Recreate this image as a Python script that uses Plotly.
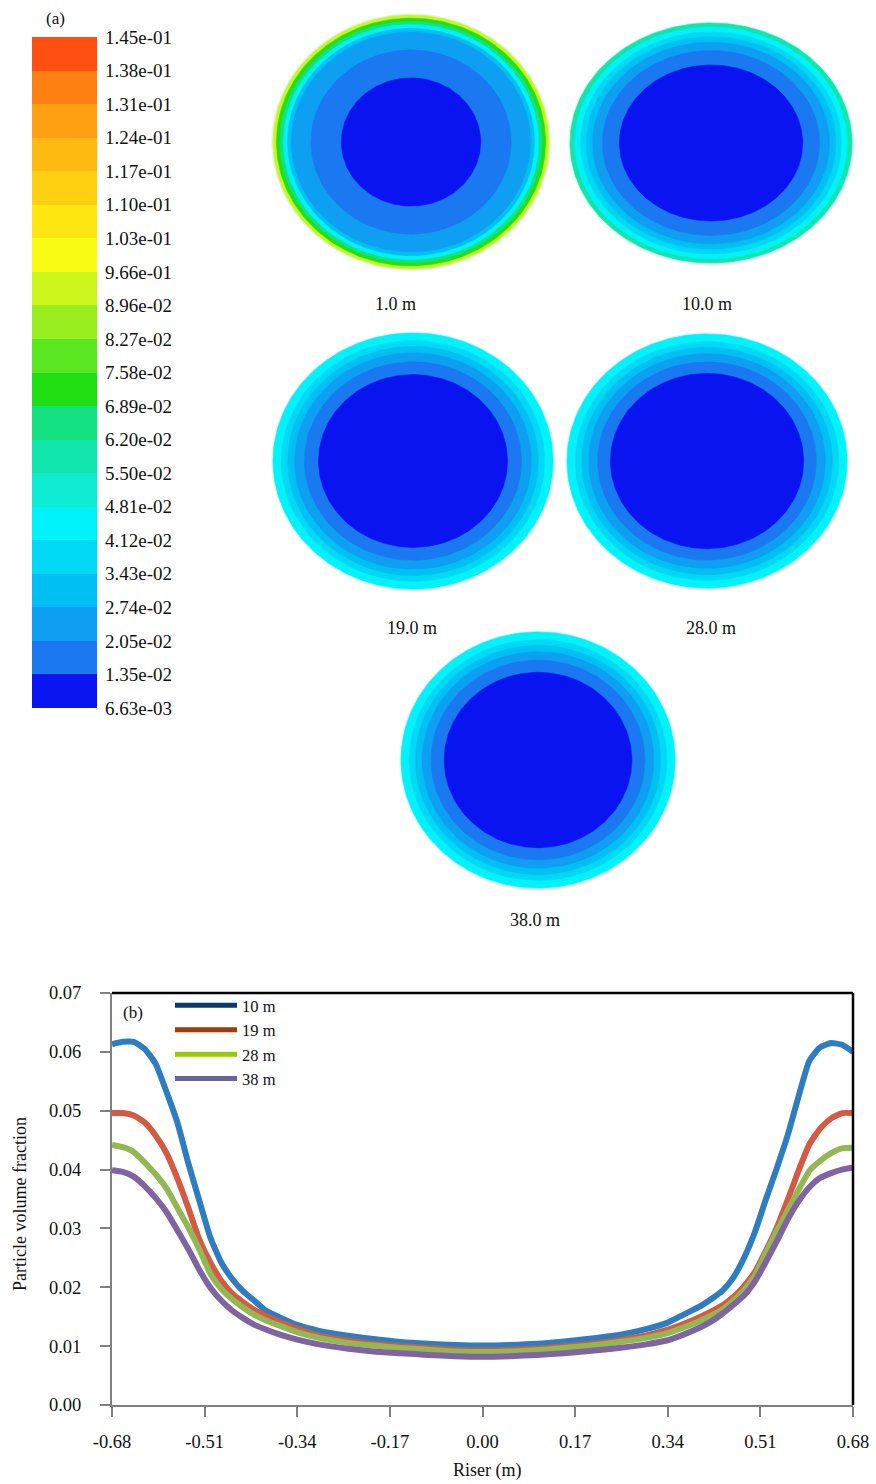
import numpy as np
import plotly.graph_objects as go

# ---------------- data ----------------
# colour-bar tick labels (top -> bottom), as printed
cbar_labels = ["1.45e-01", "1.38e-01", "1.31e-01", "1.24e-01", "1.17e-01", "1.10e-01",
               "1.03e-01", "9.66e-01", "8.96e-02", "8.27e-02", "7.58e-02", "6.89e-02",
               "6.20e-02", "5.50e-02", "4.81e-02", "4.12e-02", "3.43e-02", "2.74e-02",
               "2.05e-02", "1.35e-02", "6.63e-03"]
# band colours (bottom -> top)
band_colors = ["#0a14f0", "#1a78f0", "#0e9ef2", "#00bff2", "#00d9f5", "#00f2fb",
               "#10ecd2", "#10e6ac", "#14e282", "#20e014", "#5ae620", "#98ee1e",
               "#ccf61c", "#fafc14", "#ffe812", "#ffd012", "#ffba12", "#ffa012",
               "#ff8012", "#ff5012"]

# contour maps: heights, ring levels (band index, outer -> inner) and ring radius fractions
heights = ["1.0 m", "10.0 m", "19.0 m", "28.0 m", "38.0 m"]
ring_levels = [
    [12, 9, 8, 5, 3, 2, 1, 0],
    [7, 5, 4, 3, 2, 1, 0],
    [5, 4, 3, 2, 1, 0],
    [5, 4, 3, 2, 1, 0],
    [5, 4, 3, 2, 1, 0],
]
ring_radii = [
    [1.00, 0.975, 0.95, 0.925, 0.895, 0.865, 0.725, 0.505],
    [1.00, 0.965, 0.925, 0.885, 0.84, 0.77, 0.65],
    [1.00, 0.94, 0.895, 0.845, 0.775, 0.675],
    [1.00, 0.94, 0.895, 0.845, 0.78, 0.69],
    [1.00, 0.94, 0.895, 0.845, 0.78, 0.685],
]

# line chart (b)
riser = [-0.68, -0.66, -0.64, -0.62, -0.60, -0.58, -0.56, -0.54, -0.52, -0.50, -0.48, -0.46,
         -0.44, -0.42, -0.40, -0.37, -0.34, -0.30, -0.25, -0.20, -0.15, -0.10, -0.05, 0.00,
         0.05, 0.10, 0.15, 0.20, 0.25, 0.30, 0.34, 0.37, 0.40, 0.42, 0.44, 0.46, 0.48, 0.50,
         0.52, 0.54, 0.56, 0.58, 0.60, 0.62, 0.64, 0.66, 0.68]
frac_10 = [0.0613, 0.0617, 0.0617, 0.0605, 0.0580, 0.0532, 0.0480, 0.0411, 0.0348, 0.0286,
           0.0243, 0.0215, 0.0194, 0.0178, 0.0162, 0.0148, 0.0136, 0.0126, 0.0118, 0.0112,
           0.0107, 0.0104, 0.0102, 0.0101, 0.0102, 0.0104, 0.0108, 0.0113, 0.0119, 0.0129,
           0.0140, 0.0154, 0.0168, 0.0180, 0.0194, 0.0216, 0.0250, 0.0294, 0.0349, 0.0402,
           0.0458, 0.0524, 0.0585, 0.0608, 0.0615, 0.0612, 0.0600]
frac_19 = [0.0496, 0.0496, 0.0492, 0.0480, 0.0458, 0.0428, 0.0385, 0.0335, 0.0282, 0.0243,
           0.0212, 0.0190, 0.0175, 0.0162, 0.0153, 0.0140, 0.0130, 0.0118, 0.0110, 0.0104,
           0.0100, 0.0097, 0.0094, 0.0093, 0.0094, 0.0096, 0.0100, 0.0104, 0.0110, 0.0118,
           0.0128, 0.0138, 0.0150, 0.0159, 0.0169, 0.0183, 0.0202, 0.0226, 0.0262, 0.0301,
           0.0348, 0.0398, 0.0443, 0.0470, 0.0487, 0.0496, 0.0496]
frac_28 = [0.0442, 0.0438, 0.0430, 0.0412, 0.0392, 0.0368, 0.0335, 0.0302, 0.0265, 0.0224,
           0.0198, 0.0180, 0.0166, 0.0154, 0.0145, 0.0134, 0.0124, 0.0114, 0.0106, 0.0101,
           0.0097, 0.0094, 0.0091, 0.0090, 0.0091, 0.0093, 0.0097, 0.0101, 0.0107, 0.0114,
           0.0122, 0.0132, 0.0143, 0.0152, 0.0162, 0.0177, 0.0195, 0.0220, 0.0258, 0.0295,
           0.0330, 0.0365, 0.0398, 0.0415, 0.0428, 0.0436, 0.0437]
frac_38 = [0.0399, 0.0396, 0.0388, 0.0372, 0.0352, 0.0328, 0.0297, 0.0265, 0.0230, 0.0200,
           0.0178, 0.0161, 0.0148, 0.0137, 0.0129, 0.0119, 0.0111, 0.0103, 0.0096, 0.0091,
           0.0088, 0.0085, 0.0083, 0.0082, 0.0083, 0.0085, 0.0088, 0.0092, 0.0097, 0.0103,
           0.0110, 0.0120, 0.0132, 0.0142, 0.0155, 0.0170, 0.0186, 0.0210, 0.0243, 0.0278,
           0.0315, 0.0346, 0.0370, 0.0386, 0.0394, 0.0400, 0.0403]
series_names = ["10 m", "19 m", "28 m", "38 m"]
series_values = [frac_10, frac_19, frac_28, frac_38]
x_ticks = [-0.68, -0.51, -0.34, -0.17, 0.00, 0.17, 0.34, 0.51, 0.68]
y_ticks = [0.00, 0.01, 0.02, 0.03, 0.04, 0.05, 0.06, 0.07]

# ---------------- styles / layout ----------------
W, H = 876, 1484
FONT = "Liberation Serif, Times New Roman, serif"
TXT = "#111"
line_colors = ["#2e7dc0", "#d35a43", "#93b753", "#8064a2"]
legend_colors = ["#0d3a6e", "#a33a0c", "#99cc00", "#66669a"]
# circle placement in pixel space: (cx, cy, rx, ry), label position
circle_geom = [(411, 142, 138, 127), (711, 143, 141, 120), (413, 461, 140, 128),
               (707, 461, 140, 127), (538, 760, 137, 128)]
label_pos = [(395, 304), (707, 304), (412, 628), (711, 628), (535, 920)]

fig = go.Figure()

# --- pixel-space axes for the contour maps (x, y)
theta = np.linspace(0, 2 * np.pi, 241)
for (cx, cy, rx, ry), levels, radii in zip(circle_geom, ring_levels, ring_radii):
    # soft edge
    fig.add_trace(go.Scatter(
        x=cx + rx * 1.012 * np.cos(theta), y=cy + ry * 1.012 * np.sin(theta),
        mode="lines", fill="toself", fillcolor="rgba(150,230,240,0.35)",
        line=dict(width=0), hoverinfo="skip", showlegend=False, xaxis="x", yaxis="y"))
    for lev, r in zip(levels, radii):
        fig.add_trace(go.Scatter(
            x=cx + rx * r * np.cos(theta), y=cy + ry * r * np.sin(theta),
            mode="lines", fill="toself", fillcolor=band_colors[lev],
            line=dict(width=0.6, color=band_colors[lev]),
            hoverinfo="skip", showlegend=False, xaxis="x", yaxis="y"))

# --- colour bar (x3, y3)
nb = len(band_colors)
cscale = []
for i, c in enumerate(band_colors):
    cscale.append([i / nb, c])
    cscale.append([(i + 1) / nb, c])
fig.add_trace(go.Heatmap(
    x=[0], y=[i + 0.5 for i in range(nb)], z=[[i] for i in range(nb)],
    zmin=-0.5, zmax=nb - 0.5, colorscale=cscale, showscale=False,
    hoverinfo="skip", xaxis="x3", yaxis="y3"))

# --- line chart (x2, y2)
for name, vals, col in zip(series_names, series_values, line_colors):
    fig.add_trace(go.Scatter(
        x=riser, y=vals, mode="lines", line=dict(color=col, width=6, shape="spline", smoothing=0.5),
        showlegend=False, hoverinfo="skip", xaxis="x2", yaxis="y2"))
for name, col in zip(series_names, legend_colors):
    fig.add_trace(go.Scatter(
        x=[None], y=[None], mode="lines", name=name, line=dict(color=col, width=5),
        xaxis="x2", yaxis="y2"))

def px_x(p):
    return p / W

def px_y(p):
    return 1 - p / H

def note(text, x, y, size=18, **kw):
    d = dict(text=text, x=px_x(x), y=px_y(y), xref="paper", yref="paper", showarrow=False,
             xanchor="center", yanchor="middle", font=dict(family=FONT, size=size, color=TXT))
    d.update(kw)
    return d

annotations = [
    note("(a)", 55, 18, size=17),
    note("(b)", 133, 1012, size=17),
    note("Riser (m)", 487, 1470),
    note("Particle volume fraction", 20, 1204, textangle=-90),
]
for lab, (lx, ly) in zip(heights, label_pos):
    annotations.append(dict(text=lab, x=lx, y=ly, xref="x", yref="y", showarrow=False,
                            xanchor="center", yanchor="middle",
                            font=dict(family=FONT, size=18, color=TXT)))

shapes = [
    dict(type="line", xref="x2 domain", yref="y2 domain", x0=0, x1=1, y0=1, y1=1,
         line=dict(color="black", width=2.5)),
    dict(type="line", xref="x2 domain", yref="y2 domain", x0=1, x1=1, y0=0, y1=1,
         line=dict(color="black", width=2.5)),
]

fig.update_layout(
    width=W, height=H, margin=dict(l=0, r=0, t=0, b=0, pad=0, autoexpand=False),
    paper_bgcolor="white", plot_bgcolor="rgba(0,0,0,0)",
    font=dict(family=FONT, size=17, color=TXT),
    showlegend=True,
    legend=dict(x=px_x(170), y=px_y(988), xanchor="left", yanchor="top",
                bgcolor="rgba(0,0,0,0)", font=dict(family=FONT, size=16.5, color=TXT),
                itemwidth=62, tracegroupgap=0, itemclick=False, itemdoubleclick=False),
    xaxis=dict(domain=[0, 1], range=[0, W], visible=False, fixedrange=True, automargin=False),
    yaxis=dict(domain=[0, 1], range=[H, 0], visible=False, fixedrange=True, automargin=False),
    xaxis3=dict(domain=[px_x(32), px_x(97)], range=[-0.5, 0.5], visible=False,
                anchor="y3", fixedrange=True, automargin=False),
    yaxis3=dict(domain=[px_y(708), px_y(37)], range=[0, nb], anchor="x3", side="right",
                tickvals=list(range(nb + 1)), ticktext=cbar_labels[::-1],
                ticks="", showline=False, showgrid=False, zeroline=False,
                ticklabelstandoff=7, tickfont=dict(family=FONT, size=19, color=TXT),
                fixedrange=True, automargin=False),
    xaxis2=dict(domain=[px_x(112), px_x(853)], range=[-0.68, 0.68], anchor="y2",
                tickvals=x_ticks, ticktext=[f"{v:.2f}" for v in x_ticks],
                ticks="outside", ticklen=10, tickwidth=2, tickcolor="#808080",
                showline=True, linecolor="#808080", linewidth=2, showgrid=False,
                zeroline=False, ticklabelstandoff=9, automargin=False,
                tickfont=dict(family=FONT, size=18.5, color=TXT), fixedrange=True),
    yaxis2=dict(domain=[px_y(1405), px_y(993)], range=[0, 0.07], anchor="x2",
                tickvals=y_ticks, ticktext=[f"{v:.2f}" for v in y_ticks],
                ticks="outside", ticklen=10, tickwidth=2, tickcolor="#808080",
                showline=True, linecolor="#808080", linewidth=2, showgrid=False,
                zeroline=False, ticklabelstandoff=15, automargin=False,
                tickfont=dict(family=FONT, size=18.5, color=TXT), fixedrange=True),
    annotations=annotations, shapes=shapes,
)

fig.write_html(
    "out.html",
    config={"displayModeBar": False},
    post_script="document.documentElement.style.margin='0';document.documentElement.style.overflow='hidden';"
                "document.body.style.margin='0';document.body.style.padding='0';document.body.style.overflow='hidden';",
)
